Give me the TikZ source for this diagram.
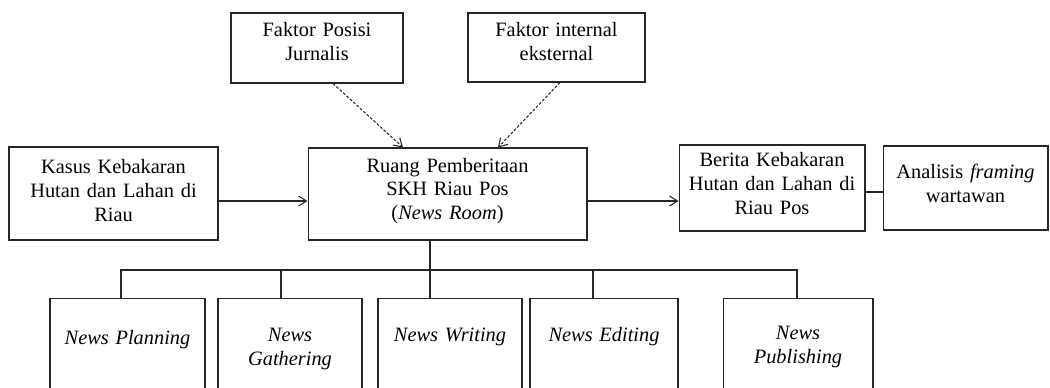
\documentclass[tikz,border=0pt]{standalone}
\usepackage{fontspec}
\setmainfont{Liberation Serif}
\usetikzlibrary{arrows.meta,calc}
\definecolor{hitam}{HTML}{262626}
\tikzset{
  kotak/.style={draw=hitam,line width=0.6pt,inner xsep=0pt,inner ysep=0pt,align=center,text height=8pt,font=\fontsize{11.6}{13.6}\selectfont},
  panah/.style={-{Straight Barb[length=1.6mm,width=2mm]},hitam,line width=0.6pt},
  putus/.style={panah,dash pattern=on 1.6pt off 1pt},
  garis/.style={hitam,line width=0.6pt},
}
\begin{document}
\begin{tikzpicture}[x=0.02cm,y=-0.02cm]
  \clip (0,0) rectangle (1050,387);
  % Faktor
  \node[kotak,text width=3.44cm,minimum height=1.40cm,text depth=21pt] (posisi) at (317,48) {Faktor Posisi\\Jurnalis};
  \node[kotak,text width=3.54cm,minimum height=1.38cm,text depth=20pt] (internal) at (556.5,47.5) {Faktor internal\\eksternal};
  % Baris tengah
  \node[kotak,text width=4.18cm,minimum height=1.86cm,text depth=31pt] (kasus) at (113.5,193.5) {Kasus Kebakaran\\Hutan dan Lahan di\\Riau};
  \node[kotak,text width=5.58cm,minimum height=1.84cm,text depth=33pt] (ruang) at (447.5,194) {Ruang Pemberitaan\\SKH Riau Pos\\(\textit{News Room})};
  \node[kotak,text width=3.72cm,minimum height=1.72cm,text depth=32pt] (berita) at (772,188) {Berita Kebakaran\\Hutan dan Lahan di\\Riau Pos};
  \node[kotak,text width=3.30cm,minimum height=1.68cm,text depth=19pt] (analisis) at (965.5,188) {Analisis \textit{framing}\\wartawan};
  % Tahapan
  \node[kotak,text width=3.10cm,minimum height=2.64cm,text depth=30.7pt] (plan) at (127.5,364) {\textit{News Planning}};
  \node[kotak,text width=2.88cm,minimum height=2.64cm,text depth=34pt] (gather) at (290,364) {\textit{News}\\\textit{Gathering}};
  \node[kotak,text width=2.88cm,minimum height=2.64cm,text depth=34pt] (write) at (450,364) {\textit{News Writing}};
  \node[kotak,text width=2.96cm,minimum height=2.64cm,text depth=34pt] (edit) at (604,364) {\textit{News Editing}};
  \node[kotak,text width=3.00cm,minimum height=2.64cm,text depth=36.3pt] (publish) at (798,364) {\textit{News}\\\textit{Publishing}};
  % Panah
  \draw[putus] ([xshift=0.32cm]posisi.south) -- ([xshift=-0.89cm]ruang.north);
  \draw[putus] ([xshift=0.07cm]internal.south) -- ([xshift=1.01cm]ruang.north);
  \coordinate (masuk) at ([yshift=-0.14cm]ruang.west);
  \draw[panah] (kasus.east |- masuk) -- (masuk);
  \coordinate (keluar) at ([yshift=-0.14cm]ruang.east);
  \draw[panah] (keluar) -- (keluar -| berita.west);
  \draw[garis] ([yshift=-0.08cm]berita.east) -- ([yshift=-0.08cm]analisis.west);
  % Cabang
  \coordinate (hub) at (430,270);
  \draw[garis] (hub) -- (hub |- ruang.south);
  \foreach \n/\dx in {plan/-6.5,gather/-9,write/-20,edit/-11,publish/-1}
    \draw[garis] ([xshift=\dx*0.02cm]\n.north) |- (hub);
\end{tikzpicture}
\end{document}
